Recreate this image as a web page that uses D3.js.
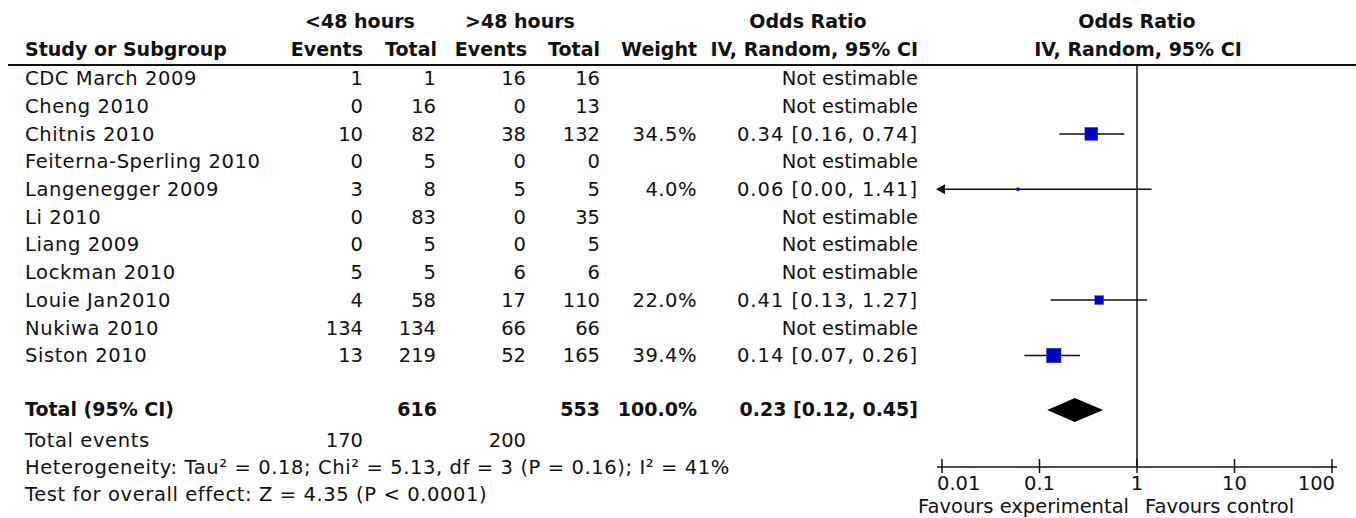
<!DOCTYPE html>
<html><head><meta charset="utf-8">
<script src="https://cdn.jsdelivr.net/npm/d3@7/dist/d3.min.js"></script>
<style>
html,body{margin:0;padding:0;background:#fff;}
svg text{font-family:"DejaVu Sans",sans-serif;font-size:19.5px;fill:#111;}
svg text.b{font-weight:700;font-size:19px;}
svg text.ls{letter-spacing:0.6px;}
svg text.ci{letter-spacing:1px;}
svg text.w{letter-spacing:0.5px;}
</style></head>
<body><svg id="c" width="1356" height="518"></svg>
<script>
const studies = ["CDC March 2009","Cheng 2010","Chitnis 2010","Feiterna-Sperling 2010","Langenegger 2009","Li 2010","Liang 2009","Lockman 2010","Louie Jan2010","Nukiwa 2010","Siston 2010"];
const events1 = [1,0,10,0,3,0,0,5,4,134,13];
const total1  = [1,16,82,5,8,83,5,5,58,134,219];
const events2 = [16,0,38,0,5,0,0,6,17,66,52];
const total2  = [16,13,132,0,5,35,5,6,110,66,165];
const weights = [null,null,34.5,null,4.0,null,null,null,22.0,null,39.4];
const orEst   = [null,null,0.34,null,0.06,null,null,null,0.41,null,0.14];
const orLow   = [null,null,0.16,null,0.00,null,null,null,0.13,null,0.07];
const orHigh  = [null,null,0.74,null,1.41,null,null,null,1.27,null,0.26];
const pooled  = {est:0.23, low:0.12, high:0.45};
const totals  = {n1:616, n2:553, e1:170, e2:200, weight:"100.0%"};
const axisTicks = [0.01,0.1,1,10,100];
const axisTickLabels = ["0.01","0.1","1","10","100"];
const footnotes = ["Heterogeneity: Tau² = 0.18; Chi² = 5.13, df = 3 (P = 0.16); I² = 41%","Test for overall effect: Z = 4.35 (P < 0.0001)"];

const svg = d3.select("#c");
const x = d3.scaleLog().domain([0.01,100]).range([942,1332]);
const rowY = d3.scaleLinear().domain([0,10]).range([78.5,355.5]);
const sizeS = d3.scaleLinear().domain([0,39.4]).range([1.5,14.5]);
const fmt2 = d3.format(".2f");
const fmtW = d3.format(".1f");

function txt(xp,yp,s,anchor,cls){
  return svg.append("text").attr("x",xp).attr("y",yp).attr("text-anchor",anchor||"start")
    .attr("class",cls||null).text(s);
}
// headers
txt(360,28,"<48 hours","middle","b");
txt(520,28,">48 hours","middle","b");
txt(808,28,"Odds Ratio","middle","b");
txt(1137,28,"Odds Ratio","middle","b");
txt(25,56,"Study or Subgroup","start","b");
txt(363,56,"Events","end","b");
txt(437,56,"Total","end","b");
txt(527,56,"Events","end","b");
txt(600,56,"Total","end","b");
txt(697,56,"Weight","end","b");
txt(918,56,"IV, Random, 95% CI","end","b");
txt(1138,56,"IV, Random, 95% CI","middle","b");

const headY = 65;
svg.append("line").attr("x1",8).attr("x2",1356).attr("y1",headY).attr("y2",headY).attr("stroke","#111").attr("stroke-width",2);

// rows
studies.forEach((s,i)=>{
  const yb = rowY(i)+6.7;
  txt(25,yb,s,"start","ls");
  txt(363,yb,events1[i],"end");
  txt(436,yb,total1[i],"end");
  txt(526,yb,events2[i],"end");
  txt(600,yb,total2[i],"end");
  if(weights[i]!=null){
    txt(697,yb,fmtW(weights[i])+"%","end","w");
    txt(918,yb,fmt2(orEst[i])+" ["+fmt2(orLow[i])+", "+fmt2(orHigh[i])+"]","end","ci");
  } else {
    txt(918,yb,"Not estimable","end");
  }
});
// total row
const yT = 416;
txt(25,yT,"Total (95% CI)","start","b");
txt(437,yT,totals.n1,"end","b");
txt(600,yT,totals.n2,"end","b");
txt(697,yT,totals.weight,"end","b");
txt(918,yT,fmt2(pooled.est)+" ["+fmt2(pooled.low)+", "+fmt2(pooled.high)+"]","end","b");
txt(25,447,"Total events","start","ls");
txt(363,447,totals.e1,"end");
txt(526,447,totals.e2,"end");
footnotes.forEach((f,k)=>txt(25,474+k*27,f,"start","ls"));

// vertical null line
svg.append("line").attr("x1",x(1)).attr("x2",x(1)).attr("y1",headY).attr("y2",467).attr("stroke","#111").attr("stroke-width",1.5);

// CIs and squares
const lo = x.domain()[0];
studies.forEach((s,i)=>{
  if(orEst[i]==null) return;
  const cy = rowY(i);
  const clipped = orLow[i] < lo;
  const x1 = clipped ? x(lo) : x(orLow[i]);
  svg.append("line").attr("x1",x1).attr("x2",x(orHigh[i])).attr("y1",cy).attr("y2",cy).attr("stroke","#111").attr("stroke-width",1.5);
  if(clipped){
    svg.append("path").attr("d",`M${x1-6},${cy} L${x1+3},${cy-5} L${x1+3},${cy+5} Z`).attr("fill","#111");
  }
  const sz = sizeS(weights[i]);
  svg.append("rect").attr("x",x(orEst[i])-sz/2).attr("y",cy-sz/2).attr("width",sz).attr("height",sz)
    .attr("fill","#0000c8").attr("stroke","#3a3ae0").attr("stroke-width",0.5);
});
// diamond
const dy = 410;
svg.append("path").attr("d",`M${x(pooled.low)},${dy} L${x(pooled.est)},${dy-12} L${x(pooled.high)},${dy} L${x(pooled.est)},${dy+12} Z`).attr("fill","#000");

// axis
const ay = 467;
svg.append("line").attr("x1",x(0.01)-5).attr("x2",x(100)+5).attr("y1",ay).attr("y2",ay).attr("stroke","#111").attr("stroke-width",1.5);
axisTicks.forEach((t,k)=>{
  svg.append("line").attr("x1",x(t)).attr("x2",x(t)).attr("y1",ay-8).attr("y2",ay+6).attr("stroke","#111").attr("stroke-width",1.5);
  const anchor = k===0?"start":(k===axisTicks.length-1?"end":"middle");
  const dx = k===0?-5:(k===axisTicks.length-1?3:0);
  txt(x(t)+dx,490,axisTickLabels[k],anchor);
});
txt(x(1)-8,513,"Favours experimental","end");
txt(x(1)+8,513,"Favours control","start");
</script></body></html>
